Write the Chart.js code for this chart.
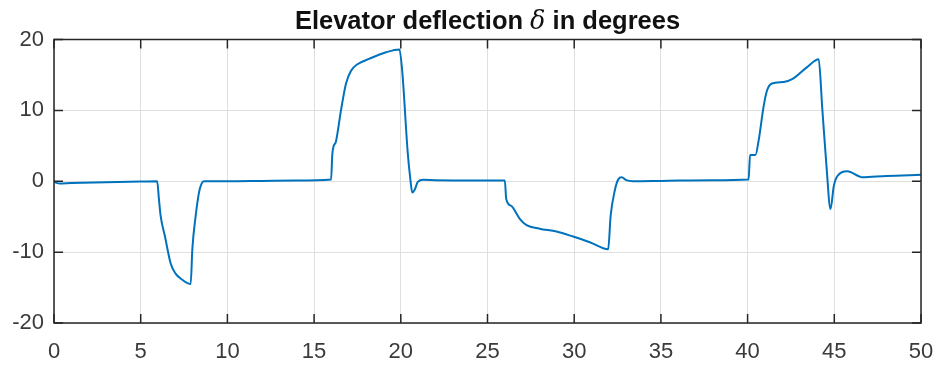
<!DOCTYPE html>
<html>
<head>
<meta charset="utf-8">
<script src="https://cdn.jsdelivr.net/npm/chart.js@4/dist/chart.umd.min.js"></script>
<style>
  html, body { margin: 0; padding: 0; background: #fff; }
  #wrap { width: 939px; height: 366px; }
</style>
</head>
<body>
<div id="wrap"><canvas id="c" width="939" height="366"></canvas></div>
<script>
// Simulation time (s)
const timeS = [
  0, 0.1, 0.3, 1, 3, 5, 5.95, 6.05, 6.15, 6.4, 6.73, 7.0, 7.4, 7.88, 7.98, 8.17, 8.36, 8.5, 8.65,
  10, 12, 14, 15.98, 16.05, 16.12, 16.26, 16.55, 16.84, 17.13, 17.5, 18.2, 19.15, 19.92,
  20.08, 20.4, 20.55, 20.66, 20.8, 20.98, 21.3, 22, 24, 26.0, 26.08, 26.38, 26.86, 27.25,
  28.0, 28.98, 29.94, 30.9, 31.96, 32.1, 32.35, 32.55, 32.74, 33.0, 33.4, 35, 38, 40.06,
  40.14, 40.45, 40.64, 40.92, 41.12, 41.4, 42.08, 42.57, 43.43, 44.1, 44.3, 44.55, 44.78,
  44.97, 45.17, 45.75, 46.42, 46.6, 48, 50
];
// Elevator deflection (deg)
const deflectionDeg = [
  0, -0.2, -0.3, -0.25, -0.15, -0.05, 0, -2.5, -4.9, -7.8, -11.6, -13.0, -13.9, -14.5, -9.5, -4.9, -1.6, -0.4, 0,
  0, 0.05, 0.1, 0.25, 3.8, 4.9, 5.6, 10, 13.8, 15.6, 16.5, 17.3, 18.2, 18.6,
  15.6, 4.0, 0.3, -1.6, -1.2, -0.1, 0.2, 0.15, 0.1, 0.1, -2.5, -3.5, -5.3, -6.2,
  -6.7, -7.1, -7.8, -8.6, -9.6, -4.9, -1.2, 0.3, 0.55, 0.15, 0, 0.05, 0.15, 0.25,
  3.7, 3.7, 5.8, 10.5, 12.8, 13.8, 14.0, 14.4, 16.1, 17.2, 10.5, 2.1, -3.9,
  -0.7, 0.7, 1.4, 0.7, 0.55, 0.75, 0.9
];
const xTicks = [0, 5, 10, 15, 20, 25, 30, 35, 40, 45, 50];
const yTicks = [-20, -10, 0, 10, 20];

const axisColor = '#262626';
const labelColor = '#3a3a3a';
const tickFont = { family: 'Liberation Sans, Arial, Helvetica, sans-serif', size: 22 };

// Box around the axes with inward-pointing ticks on all four sides
const axesBox = {
  id: 'axesBox',
  afterDraw(chart) {
    const { ctx, chartArea: a, scales } = chart;
    const len = 9;
    ctx.save();
    ctx.strokeStyle = axisColor;
    ctx.lineWidth = 1.5;
    ctx.strokeRect(a.left, a.top, a.right - a.left, a.bottom - a.top);
    ctx.beginPath();
    xTicks.forEach(v => {
      const px = scales.x.getPixelForValue(v);
      ctx.moveTo(px, a.bottom); ctx.lineTo(px, a.bottom - len);
      ctx.moveTo(px, a.top); ctx.lineTo(px, a.top + len);
    });
    yTicks.forEach(v => {
      const py = scales.y.getPixelForValue(v);
      ctx.moveTo(a.left, py); ctx.lineTo(a.left + len, py);
      ctx.moveTo(a.right, py); ctx.lineTo(a.right - len, py);
    });
    ctx.stroke();
    ctx.restore();
  }
};

// Title with an italic delta between bold runs
const mixedTitle = {
  id: 'mixedTitle',
  afterDraw(chart) {
    const { ctx, chartArea: a } = chart;
    const parts = [
      { t: 'Elevator deflection ', f: 'bold 25.5px "Liberation Sans", Arial, sans-serif' },
      { t: '\u03B4', f: 'italic 25.5px "DejaVu Serif", "Liberation Serif", serif' },
      { t: ' in degrees', f: 'bold 25.5px "Liberation Sans", Arial, sans-serif' }
    ];
    ctx.save();
    let total = 0;
    parts.forEach(p => { ctx.font = p.f; p.w = ctx.measureText(p.t).width; total += p.w; });
    let x = (a.left + a.right) / 2 - total / 2;
    ctx.fillStyle = '#111';
    ctx.textBaseline = 'alphabetic';
    parts.forEach(p => { ctx.font = p.f; ctx.fillText(p.t, x, 28.5); x += p.w; });
    ctx.restore();
  }
};

new Chart(document.getElementById('c'), {
  type: 'line',
  data: {
    datasets: [{
      data: timeS.map((t, i) => ({ x: t, y: deflectionDeg[i] })),
      borderColor: '#0072BD',
      borderWidth: 2,
      pointRadius: 0,
      cubicInterpolationMode: 'monotone',
      fill: false
    }]
  },
  options: {
    responsive: false,
    animation: false,
    devicePixelRatio: 1,
    layout: { padding: { top: 39.5, right: 18, left: 0, bottom: 0 } },
    plugins: { legend: { display: false }, title: { display: false }, tooltip: { enabled: false } },
    scales: {
      x: {
        type: 'linear', min: 0, max: 50,
        afterBuildTicks: s => { s.ticks = xTicks.map(v => ({ value: v })); },
        ticks: { color: labelColor, font: tickFont, padding: 16, maxRotation: 0, autoSkip: false },
        grid: { color: '#dfdfdf', lineWidth: 1, drawTicks: false },
        border: { display: false },
        afterFit: s => { s.height = 43; s.paddingLeft = 0; s.paddingRight = 0; }
      },
      y: {
        type: 'linear', min: -20, max: 20,
        afterBuildTicks: s => { s.ticks = yTicks.map(v => ({ value: v })); },
        ticks: { color: labelColor, font: tickFont, padding: 10 },
        grid: { color: '#dfdfdf', lineWidth: 1, drawTicks: false },
        border: { display: false },
        afterFit: s => { s.width = 54; s.paddingTop = 0; s.paddingBottom = 0; }
      }
    }
  },
  plugins: [axesBox, mixedTitle]
});
</script>
</body>
</html>
